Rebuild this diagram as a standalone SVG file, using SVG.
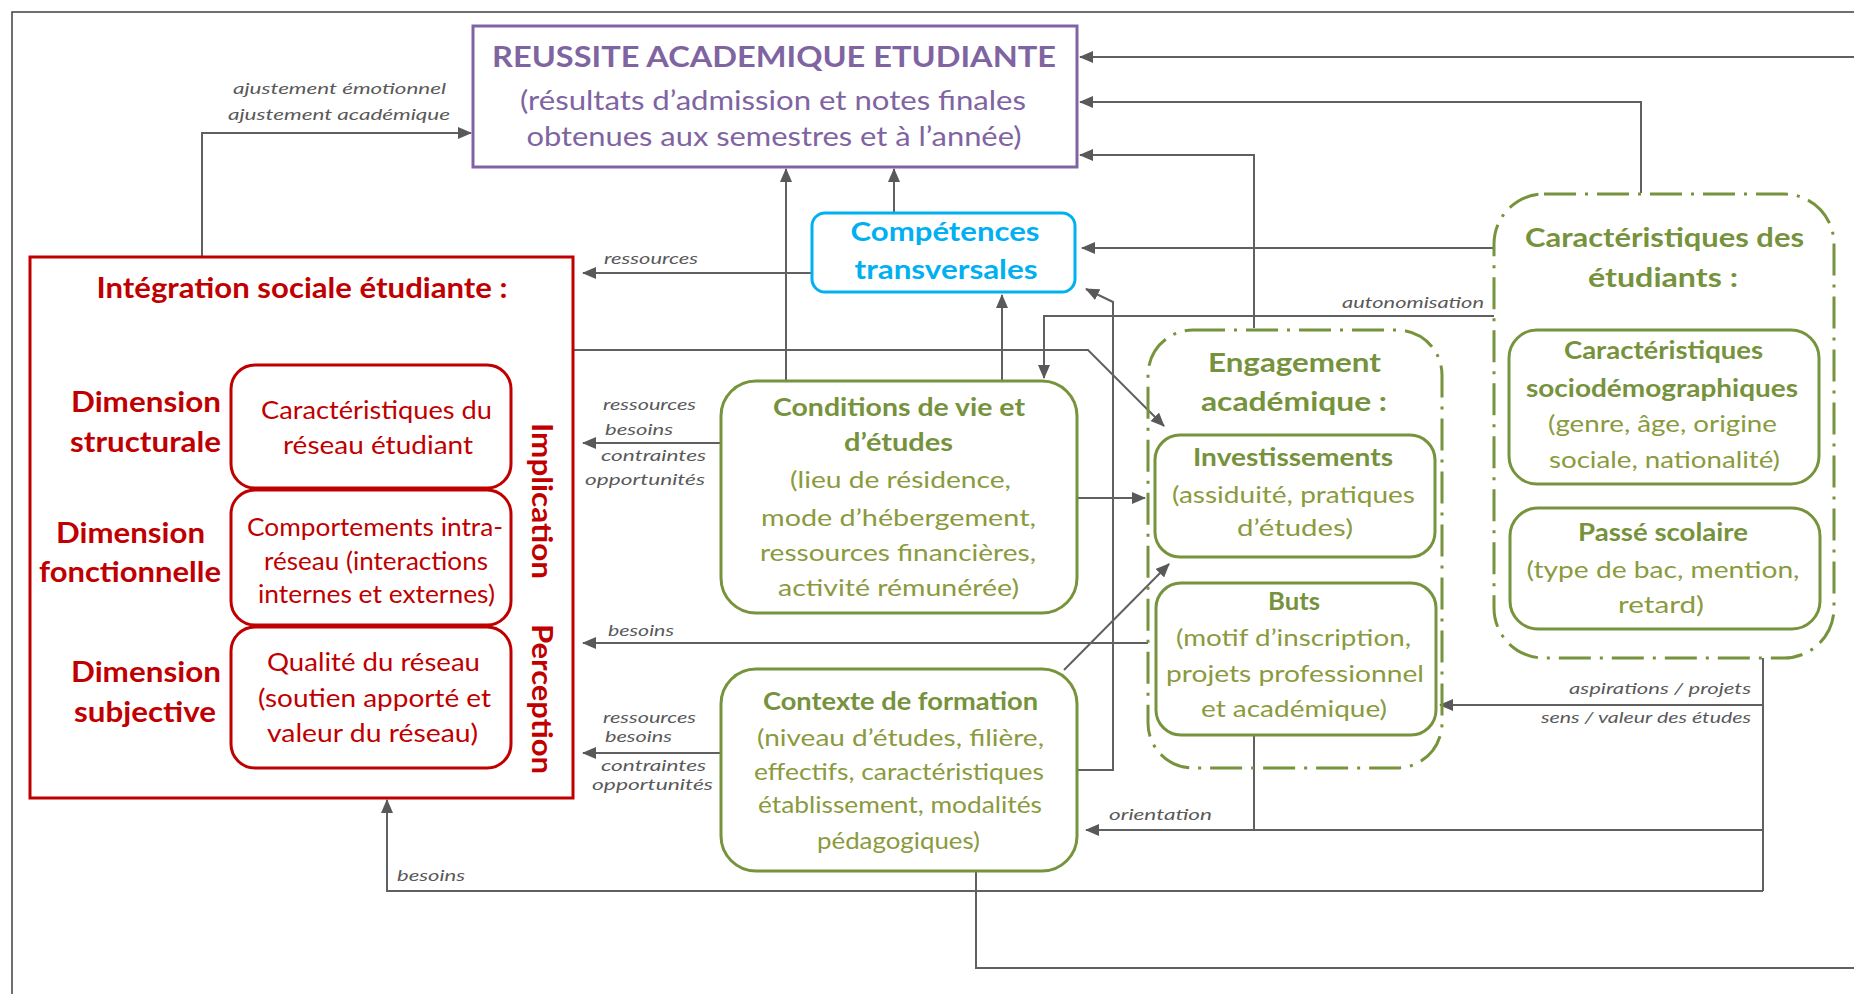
<svg xmlns="http://www.w3.org/2000/svg" width="1854" height="994" viewBox="0 0 1854 994">
<style>
.frame{fill:none;stroke:#404040;stroke-width:1.5}
.ln{fill:none;stroke:#606060;stroke-width:2}
.arr{marker-end:url(#ah)}
.lbl{font-family:Lato,"Open Sans",sans-serif;font-style:italic;font-size:16px;fill:#595959}
.pu{fill:none;stroke:#8064A2;stroke-width:3}
.cy{fill:#fff;stroke:#00B0F0;stroke-width:3}
.rd{fill:none;stroke:#C00000;stroke-width:3}
.gr{fill:#fff;stroke:#77933C;stroke-width:3}
.dd{fill:none;stroke:#77933C;stroke-width:3;stroke-dasharray:32 9 3 9}
text{font-family:Lato,"Open Sans",sans-serif}
.c{text-anchor:middle}
.e{text-anchor:end}
.tp{fill:#8064A2;font-size:26px}
.tpb{fill:#8064A2;font-size:29px;font-weight:bold}
.tc{fill:#00B0F0;font-size:27px;font-weight:bold}
.tr{fill:#C00000;font-size:25px}
.trb{fill:#C00000;font-size:28px;font-weight:bold}
.tg{fill:#8A9A3E;font-size:24px}
.tgb{fill:#76923C;font-size:24px;font-weight:bold}
.tgh{fill:#76923C;font-size:26px;font-weight:bold}
</style>
<defs>
<marker id="ah" markerUnits="userSpaceOnUse" markerWidth="14" markerHeight="12" refX="13" refY="6" orient="auto"><path d="M0,0 L14,6 L0,12 z" fill="#595959"/></marker>
</defs>
<path class="frame" d="M12,994 V12 H1854"/>
<g id="connectors">
<path class="ln arr" d="M202,257 V133 H471"/>
<path class="ln arr" d="M1854,57 H1080"/>
<path class="ln arr" d="M1641,193 V102 H1080"/>
<path class="ln arr" d="M1254,328 V155 H1080"/>
<path class="ln arr" d="M786,381 V169"/>
<path class="ln arr" d="M894,213 V169"/>
<path class="ln arr" d="M812,273 H583"/>
<path class="ln arr" d="M1494,248 H1082"/>
<path class="ln arr" d="M1002,381 V295"/>
<path class="ln arr" d="M1077,770 H1113 V302 L1086,289"/>
<path class="ln arr" d="M1494,316 H1044 V378"/>
<path class="ln arr" d="M573,350 H1088 L1164,426"/>
<path class="ln arr" d="M721,443 H583"/>
<path class="ln arr" d="M1077,498 H1145"/>
<path class="ln arr" d="M1148,643 H583"/>
<path class="ln arr" d="M721,753 H583"/>
<path class="ln arr" d="M1064,670 L1169,564"/>
<path class="ln" d="M1763,658 V891"/>
<path class="ln arr" d="M1763,705 H1440"/>
<path class="ln arr" d="M1763,830 H1086"/>
<path class="ln" d="M1254,735 V830"/>
<path class="ln arr" d="M1763,891 H387 V800"/>
<path class="ln" d="M976,871 V968 H1854"/>
<text class="lbl c" x="339.5" y="94" textLength="213" lengthAdjust="spacingAndGlyphs">ajustement émotionnel</text>
<text class="lbl c" x="339" y="120" textLength="222" lengthAdjust="spacingAndGlyphs">ajustement académique</text>
<text class="lbl" x="604" y="264" textLength="94" lengthAdjust="spacingAndGlyphs">ressources</text>
<text class="lbl" x="1342" y="308" textLength="142" lengthAdjust="spacingAndGlyphs">autonomisation</text>
<text class="lbl" x="603" y="410" textLength="93" lengthAdjust="spacingAndGlyphs">ressources</text>
<text class="lbl" x="605" y="435" textLength="68" lengthAdjust="spacingAndGlyphs">besoins</text>
<text class="lbl" x="601" y="461" textLength="105" lengthAdjust="spacingAndGlyphs">contraintes</text>
<text class="lbl" x="585" y="485" textLength="120" lengthAdjust="spacingAndGlyphs">opportunités</text>
<text class="lbl" x="608" y="636" textLength="66" lengthAdjust="spacingAndGlyphs">besoins</text>
<text class="lbl" x="603" y="723" textLength="93" lengthAdjust="spacingAndGlyphs">ressources</text>
<text class="lbl" x="605" y="742" textLength="67" lengthAdjust="spacingAndGlyphs">besoins</text>
<text class="lbl" x="601" y="771" textLength="105" lengthAdjust="spacingAndGlyphs">contraintes</text>
<text class="lbl" x="592" y="790" textLength="121" lengthAdjust="spacingAndGlyphs">opportunités</text>
<text class="lbl" x="1109" y="820" textLength="103" lengthAdjust="spacingAndGlyphs">orientation</text>
<text class="lbl e" x="1751" y="694" textLength="182" lengthAdjust="spacingAndGlyphs">aspirations / projets</text>
<text class="lbl e" x="1751" y="723" textLength="210" lengthAdjust="spacingAndGlyphs">sens / valeur des études</text>
<text class="lbl" x="397" y="881" textLength="68" lengthAdjust="spacingAndGlyphs">besoins</text>
</g>
<g id="reussite">
<rect class="pu" x="473" y="26" width="604" height="141"/>
<text class="tpb c" x="774" y="67" textLength="564" lengthAdjust="spacingAndGlyphs">REUSSITE ACADEMIQUE ETUDIANTE</text>
<text class="tp c" x="773" y="110" textLength="506" lengthAdjust="spacingAndGlyphs">(résultats d’admission et notes finales</text>
<text class="tp c" x="774" y="146" textLength="495" lengthAdjust="spacingAndGlyphs">obtenues aux semestres et à l’année)</text>
</g>
<g id="competences">
<rect class="cy" x="812" y="213" width="263" height="79" rx="13"/>
<text class="tc c" x="945" y="241" textLength="189" lengthAdjust="spacingAndGlyphs">Compétences</text>
<text class="tc c" x="946" y="279" textLength="183" lengthAdjust="spacingAndGlyphs">transversales</text>
</g>
<g id="integration">
<rect class="rd" x="30" y="257" width="543" height="541"/>
<text class="trb c" x="302" y="298" textLength="411" lengthAdjust="spacingAndGlyphs">Intégration sociale étudiante :</text>
<text class="trb c" x="146" y="412" textLength="150" lengthAdjust="spacingAndGlyphs">Dimension</text>
<text class="trb c" x="145.5" y="452" textLength="151" lengthAdjust="spacingAndGlyphs">structurale</text>
<text class="trb c" x="130.5" y="543" textLength="149" lengthAdjust="spacingAndGlyphs">Dimension</text>
<text class="trb c" x="130" y="582" textLength="182" lengthAdjust="spacingAndGlyphs">fonctionnelle</text>
<text class="trb c" x="146" y="682" textLength="150" lengthAdjust="spacingAndGlyphs">Dimension</text>
<text class="trb c" x="145" y="722" textLength="142" lengthAdjust="spacingAndGlyphs">subjective</text>
<text class="trb c" transform="translate(532,501) rotate(90)" x="0" y="0" textLength="156" lengthAdjust="spacingAndGlyphs">Implication</text>
<text class="trb c" transform="translate(532,699) rotate(90)" x="0" y="0" textLength="150" lengthAdjust="spacingAndGlyphs">Perception</text>
</g>
<g id="reseau-structure">
<rect class="rd" x="231" y="365" width="280" height="123" rx="24"/>
<text class="tr c" x="376.5" y="419" textLength="231" lengthAdjust="spacingAndGlyphs">Caractéristiques du</text>
<text class="tr c" x="378" y="454" textLength="190" lengthAdjust="spacingAndGlyphs">réseau étudiant</text>
</g>
<g id="reseau-comportements">
<rect class="rd" x="231" y="490" width="280" height="135" rx="24"/>
<text class="tr c" x="375" y="536" textLength="256" lengthAdjust="spacingAndGlyphs">Comportements intra-</text>
<text class="tr c" x="376" y="570" textLength="224" lengthAdjust="spacingAndGlyphs">réseau (interactions</text>
<text class="tr c" x="376.5" y="603" textLength="237" lengthAdjust="spacingAndGlyphs">internes et externes)</text>
</g>
<g id="reseau-qualite">
<rect class="rd" x="231" y="627" width="280" height="141" rx="24"/>
<text class="tr c" x="373.5" y="671" textLength="213" lengthAdjust="spacingAndGlyphs">Qualité du réseau</text>
<text class="tr c" x="374.5" y="707" textLength="233" lengthAdjust="spacingAndGlyphs">(soutien apporté et</text>
<text class="tr c" x="372.5" y="742" textLength="211" lengthAdjust="spacingAndGlyphs">valeur du réseau)</text>
</g>
<g id="conditions">
<rect class="gr" x="721" y="381" width="356" height="232" rx="35"/>
<text class="tgb c" x="899" y="416" textLength="252" lengthAdjust="spacingAndGlyphs">Conditions  de vie et</text>
<text class="tgb c" x="898.5" y="451" textLength="109" lengthAdjust="spacingAndGlyphs">d’études</text>
<text class="tg c" x="900.5" y="488" textLength="221" lengthAdjust="spacingAndGlyphs">(lieu de résidence,</text>
<text class="tg c" x="898.5" y="526" textLength="275" lengthAdjust="spacingAndGlyphs">mode d’hébergement,</text>
<text class="tg c" x="898" y="561" textLength="276" lengthAdjust="spacingAndGlyphs">ressources financières,</text>
<text class="tg c" x="898.5" y="596" textLength="241" lengthAdjust="spacingAndGlyphs">activité rémunérée)</text>
</g>
<g id="contexte">
<rect class="gr" x="721" y="669" width="356" height="202" rx="35"/>
<text class="tgb c" x="900.5" y="710" textLength="275" lengthAdjust="spacingAndGlyphs">Contexte de formation</text>
<text class="tg c" x="900.5" y="746" textLength="287" lengthAdjust="spacingAndGlyphs">(niveau d’études, filière,</text>
<text class="tg c" x="899" y="780" textLength="290" lengthAdjust="spacingAndGlyphs">effectifs, caractéristiques</text>
<text class="tg c" x="900" y="813" textLength="284" lengthAdjust="spacingAndGlyphs">établissement, modalités</text>
<text class="tg c" x="898.5" y="849" textLength="163" lengthAdjust="spacingAndGlyphs">pédagogiques)</text>
</g>
<g id="engagement">
<rect class="dd" x="1148" y="330" width="294" height="438" rx="45"/>
<text class="tgh c" x="1294.5" y="372" textLength="173" lengthAdjust="spacingAndGlyphs">Engagement</text>
<text class="tgh c" x="1294" y="411" textLength="186" lengthAdjust="spacingAndGlyphs">académique :</text>
</g>
<g id="investissements">
<rect class="gr" x="1155" y="435" width="280" height="122" rx="25"/>
<text class="tgb c" x="1293" y="466" textLength="200" lengthAdjust="spacingAndGlyphs">Investissements</text>
<text class="tg c" x="1293.5" y="503" textLength="243" lengthAdjust="spacingAndGlyphs">(assiduité, pratiques</text>
<text class="tg c" x="1295" y="536" textLength="116" lengthAdjust="spacingAndGlyphs">d’études)</text>
</g>
<g id="buts">
<rect class="gr" x="1156" y="583" width="280" height="152" rx="25"/>
<text class="tgb c" x="1294" y="610" textLength="52" lengthAdjust="spacingAndGlyphs">Buts</text>
<text class="tg c" x="1293.5" y="646" textLength="235" lengthAdjust="spacingAndGlyphs">(motif d’inscription,</text>
<text class="tg c" x="1295" y="682" textLength="258" lengthAdjust="spacingAndGlyphs">projets professionnel</text>
<text class="tg c" x="1294" y="717" textLength="186" lengthAdjust="spacingAndGlyphs">et académique)</text>
</g>
<g id="caracteristiques">
<rect class="dd" x="1494" y="194" width="340" height="464" rx="50"/>
<text class="tgh c" x="1664.5" y="247" textLength="279" lengthAdjust="spacingAndGlyphs">Caractéristiques des</text>
<text class="tgh c" x="1663" y="287" textLength="150" lengthAdjust="spacingAndGlyphs">étudiants :</text>
</g>
<g id="sociodemo">
<rect class="gr" x="1509" y="330" width="310" height="154" rx="28"/>
<text class="tgb c" x="1663.5" y="359" textLength="199" lengthAdjust="spacingAndGlyphs">Caractéristiques</text>
<text class="tgb c" x="1662" y="397" textLength="272" lengthAdjust="spacingAndGlyphs">sociodémographiques</text>
<text class="tg c" x="1662.5" y="432" textLength="229" lengthAdjust="spacingAndGlyphs">(genre, âge, origine</text>
<text class="tg c" x="1664.5" y="468" textLength="231" lengthAdjust="spacingAndGlyphs">sociale, nationalité)</text>
</g>
<g id="passe-scolaire">
<rect class="gr" x="1510" y="508" width="310" height="121" rx="28"/>
<text class="tgb c" x="1663" y="541" textLength="170" lengthAdjust="spacingAndGlyphs">Passé scolaire</text>
<text class="tg c" x="1663" y="578" textLength="273" lengthAdjust="spacingAndGlyphs">(type de bac, mention,</text>
<text class="tg c" x="1661" y="613" textLength="86" lengthAdjust="spacingAndGlyphs">retard)</text>
</g>
</svg>
